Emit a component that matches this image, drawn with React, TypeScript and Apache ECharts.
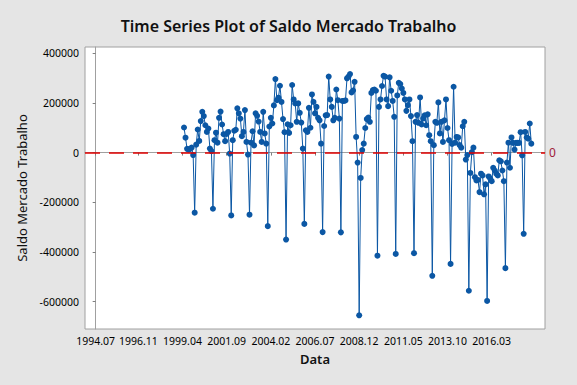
import React, { useEffect, useRef } from "react";
import * as echarts from "echarts";

// Axis tick labels (month stamps) and y ticks
const xTickLabels = ["1994.07", "1996.11", "1999.04", "2001.09", "2004.02", "2006.07", "2008.12", "2011.05", "2013.10", "2016.03"];
const yTicks = [-600000, -400000, -200000, 0, 200000, 400000];
const axisStart = "1994.07";
const firstObs = "1999.05";

// Monthly "Saldo Mercado Trabalho" values
const saldo1999 = [101000, 60000, 15000, 12000, 15000, 20000, -10000, -242000];
const saldo2000 = [32000, 93000, 47000, 127000, 164000, 147000, 110000, 83000, 97000, 16000, 6000, -226000];
const saldo2001 = [50000, 80000, 40000, 140000, 165000, 113000, 74000, 46000, 75000, 83000, -4000, -253000];
const saldo2002 = [50000, 88000, 92000, 178000, 158000, 137000, 66000, 83000, 171000, 43000, -8000, -250000];
const saldo2003 = [40000, 86000, 29000, 158000, 148000, 125000, 83000, 43000, 164000, 77000, 36000, -296000];
const saldo2004 = [105000, 140000, 117000, 190000, 296000, 211000, 221000, 269000, 204000, 135000, 82000, -350000];
const saldo2005 = [114000, 79000, 110000, 272000, 214000, 198000, 124000, 198000, 160000, 121000, 16000, -287000];
const saldo2006 = [90000, 83000, 180000, 100000, 234000, 204000, 158000, 184000, 140000, 130000, 36000, -320000];
const saldo2007 = [107000, 150000, 151000, 306000, 214000, 184000, 130000, 140000, 254000, 211000, 137000, -321000];
const saldo2008 = [208000, 208000, 210000, 299000, 306000, 316000, 242000, 250000, 285000, 63000, -40000, -655000];
const saldo2009 = [-102000, 10000, 36000, 99000, 135000, 141000, 124000, 240000, 252000, 254000, 249000, -415000];
const saldo2010 = [184000, 214000, 268000, 309000, 306000, 214000, 187000, 303000, 249000, 208000, 144000, -408000];
const saldo2011 = [230000, 281000, 276000, 258000, 240000, 214000, 168000, 191000, 214000, 147000, 46000, -405000];
const saldo2012 = [124000, 151000, 120000, 222000, 113000, 137000, 150000, 110000, 154000, 70000, 46000, -496000];
const saldo2013 = [30000, 124000, 120000, 202000, 77000, 124000, 43000, 130000, 214000, 99000, 50000, -448000];
const saldo2014 = [35000, 265000, 40000, 63000, 61000, 30000, 20000, 106000, 124000, -28000, -10000, -556000];
const saldo2015 = [-82000, 2000, 20000, -99000, -112000, -110000, -159000, -85000, -92000, -168000, -128000, -597000];
const saldo2016 = [-96000, -104000, -115000, -61000, -72000, -85000, -92000, -31000, -35000, -72000, -115000, -465000];
const saldo2017 = [-40000, 40000, -61000, 61000, 39000, 12000, 39000, 39000, 39000, 82000, -11000, -327000];
const saldo2018 = [83000, 61000, 56000, 117000, 36000];

const refValue = 0;

function monthIndex(s: string): number {
  const [y, m] = s.split(".").map(Number);
  const [by, bm] = axisStart.split(".").map(Number);
  return (y - by) * 12 + (m - bm);
}

export default function App() {
  const ref = useRef<HTMLDivElement>(null);

  useEffect(() => {
    if (!ref.current) return;
    const chart = echarts.init(ref.current, undefined, { renderer: "svg" });

    const all = [
      ...saldo1999, ...saldo2000, ...saldo2001, ...saldo2002, ...saldo2003,
      ...saldo2004, ...saldo2005, ...saldo2006, ...saldo2007, ...saldo2008,
      ...saldo2009, ...saldo2010, ...saldo2011, ...saldo2012, ...saldo2013,
      ...saldo2014, ...saldo2015, ...saldo2016, ...saldo2017, ...saldo2018,
    ];
    const start = monthIndex(firstObs);
    const points = all.map((v, i) => [start + i, v]);
    const tickIdx = xTickLabels.map(monthIndex);
    const labelMap: Record<number, string> = {};
    xTickLabels.forEach((l, i) => (labelMap[tickIdx[i]] = l));

    const font = "'Noto Sans', 'Open Sans', sans-serif";

    chart.setOption({
      animation: false,
      backgroundColor: "#e5e5e5",
      title: {
        text: "Time Series Plot of Saldo Mercado Trabalho",
        left: "center",
        top: 13,
        textStyle: { fontFamily: font, fontSize: 16, fontWeight: 600, color: "#111" },
      },
      grid: {
        left: 85,
        right: 32,
        top: 47,
        bottom: 56,
        show: true,
        backgroundColor: "#ffffff",
        borderColor: "#a0a0a0",
        borderWidth: 1,
      },
      xAxis: {
        type: "value",
        min: -7,
        max: 295,
        name: "Data",
        nameLocation: "middle",
        nameGap: 23,
        nameTextStyle: { fontFamily: font, fontSize: 13, fontWeight: 600, color: "#111" },
        axisLine: { show: true, lineStyle: { color: "#a0a0a0" } },
        axisTick: { show: true, length: 3, customValues: tickIdx, lineStyle: { color: "#808080" } },
        axisLabel: {
          customValues: tickIdx,
          formatter: (v: number) => labelMap[v] ?? "",
          fontFamily: font,
          fontSize: 10.5,
          color: "#000",
          margin: 6,
        },
        splitLine: { show: false },
      },
      yAxis: {
        type: "value",
        min: -710000,
        max: 425000,
        name: "Saldo Mercado Trabalho",
        nameLocation: "middle",
        nameGap: 50,
        nameTextStyle: { fontFamily: font, fontSize: 13, color: "#111" },
        axisLine: { show: true, lineStyle: { color: "#a0a0a0" } },
        axisTick: { show: true, length: 3, customValues: yTicks, lineStyle: { color: "#808080" } },
        axisLabel: {
          customValues: yTicks,
          formatter: (v: number) => String(v),
          fontFamily: font,
          fontSize: 10.5,
          color: "#000",
          margin: 6,
        },
        splitLine: { show: false },
      },
      series: [
        {
          type: "line",
          data: [],
          z: 1,
          silent: true,
          markLine: {
            silent: true,
            symbol: "none",
            lineStyle: { color: "#e00000", type: [15, 9], width: 1.5 },
            label: {
              show: true,
              position: "end",
              formatter: String(refValue),
              color: "#a0203a",
              fontFamily: font,
              fontSize: 12,
              distance: 4,
            },
            data: [{ yAxis: refValue }],
          },
        },
        {
          type: "line",
          data: points,
          z: 3,
          symbol: "circle",
          symbolSize: 6,
          showSymbol: true,
          lineStyle: { color: "#0b57a4", width: 1 },
          itemStyle: { color: "#0b57a4" },
        },
      ],
    });

    return () => chart.dispose();
  }, []);

  return (
    <div
      ref={ref}
      style={{ position: "absolute", left: 0, top: 0, width: 577, height: 385 }}
    />
  );
}
